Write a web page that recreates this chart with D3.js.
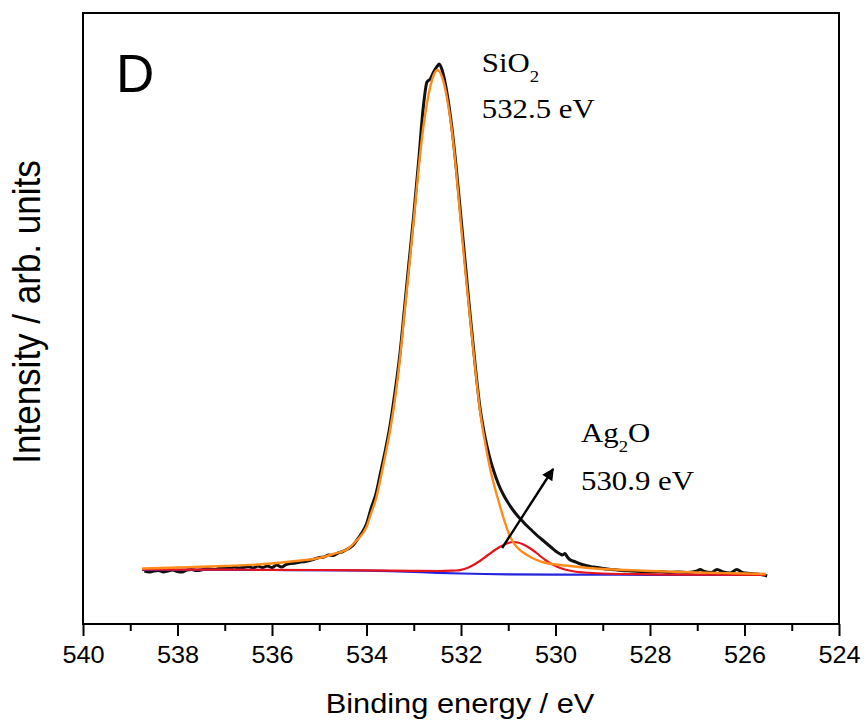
<!DOCTYPE html>
<html>
<head>
<meta charset="utf-8">
<script src="https://cdn.jsdelivr.net/npm/d3@7"></script>
<style>
  html, body { margin: 0; padding: 0; background: #fff; }
  svg { display: block; }
</style>
</head>
<body>
<svg id="chart" width="864" height="722"></svg>
<script>
// O 1s spectrum: measured counts, fitted SiO2 / Ag2O components and background.

// measured spectrum
const expEnergy = [538.7,538.6,538.5,538.4,538.3,538.2,538.1,538.0,537.9,537.8,537.7,537.6,537.5,537.4,537.3,537.2,537.1,537.0,
  536.9,536.8,536.7,536.6,536.5,536.4,536.3,536.2,536.1,536.0,535.9,535.8,535.7,535.6,535.5,535.4,535.3,535.2,535.1,535.0,
  534.9,534.8,534.7,534.6,534.5,534.4,534.3,534.2,534.1,534.0,533.9,533.8,533.7,533.6,533.5,533.4,533.3,533.2,533.1,533.0,
  532.9,532.8,532.72,532.65,532.6,532.5,532.46,532.4,532.3,532.2,532.1,532.0,531.9,531.8,531.7,531.6,531.5,531.4,531.3,531.2,531.1,531.0,
  530.9,530.8,530.7,530.6,530.5,530.4,530.3,530.2,530.1,530.0,529.9,529.85,529.8,529.75,529.7,529.6,529.5,529.4,529.3,529.2,529.1,529.0,
  528.8,528.6,528.4,528.2,528.0,527.8,527.6,527.4,527.2,527.0,526.94,526.85,526.7,526.58,526.45,526.3,526.16,526.05,525.9,525.75,525.6,525.52];
const expCounts = [1060,1040,1060,1070,1040,1060,1080,1050,1040,1080,1090,1070,1080,1110,1100,1090,1120,1130,
  1110,1140,1120,1130,1150,1120,1160,1130,1160,1130,1180,1140,1190,1210,1220,1240,1250,1270,1300,1330,
  1340,1380,1370,1420,1450,1500,1560,1680,1820,2000,2320,2600,3040,3480,3980,4620,5340,6280,7240,8180,
  9220,10320,10840,10900,11000,11160,11200,11080,10640,9980,9120,8120,7120,6120,5180,4340,3780,3360,3040,2780,2580,2420,
  2280,2160,2060,1960,1870,1780,1700,1620,1540,1460,1400,1380,1410,1340,1290,1250,1210,1180,1160,1140,1130,1110,
  1090,1070,1060,1050,1040,1050,1030,1040,1030,1060,1090,1050,1030,1090,1040,1020,1090,1030,1010,1000,980,960];

// SiO2 component (on background)
const sio2Energy = [538.75,538.0,537.0,536.0,535.5,535.0,534.7,534.4,534.2,534.0,533.9,533.8,533.7,533.6,533.5,533.4,533.3,533.2,533.1,533.0,
  532.9,532.8,532.7,532.6,532.5,532.4,532.3,532.2,532.1,532.0,531.9,531.8,531.7,531.6,531.5,531.4,531.3,531.2,531.1,531.0,
  530.9,530.8,530.6,530.4,530.2,530.0,529.8,529.5,529.0,528.5,528.0,527.0,526.0,525.55];
const sio2Counts = [1110,1130,1160,1210,1260,1320,1400,1500,1680,1940,2220,2500,2920,3380,3880,4480,5240,6180,7120,8080,
  9080,9920,10520,10920,11080,10940,10540,9920,9040,7980,6980,6040,5120,4280,3680,3180,2780,2440,2120,1840,
  1640,1520,1380,1280,1220,1190,1170,1140,1100,1080,1060,1030,1010,1000];

// Ag2O component (on background)
const ag2oEnergy = [538.75,537.0,535.0,534.0,533.0,532.5,532.2,532.1,532.0,531.9,531.8,531.7,531.6,531.5,531.4,531.3,531.2,531.1,531.0,
  530.9,530.8,530.7,530.6,530.5,530.4,530.3,530.2,530.1,530.0,529.9,529.8,529.6,529.4,529.0,528.0,527.0,526.0,525.55];
const ag2oCounts = [1090,1086,1080,1074,1064,1060,1066,1070,1084,1110,1150,1200,1260,1330,1400,1470,1530,1580,1620,
  1640,1630,1600,1550,1490,1420,1340,1270,1210,1160,1120,1090,1050,1030,1010,994,988,984,980];

// background
const bgEnergy = [538.75,536.0,534.5,534.0,533.5,533.0,532.5,532.0,531.5,531.0,530.0,528.0,525.55];
const bgCounts = [1084,1080,1074,1068,1056,1040,1024,1010,1000,994,988,984,980];

// axis
const xDomain = [540, 524];
const yDomain = [0, 12220];
const majorTicks = [540, 538, 536, 534, 532, 530, 528, 526, 524];
const minorTicks = [539, 537, 535, 533, 531, 529, 527, 525];

// peak labels and arrow (energy, counts)
const peakLabels = [
  { name: "SiO", sub: "2", after: "", value: "532.5 eV", at: [531.56, 11040], valueAt: [531.56, 10120] },
  { name: "Ag", sub: "2", after: "O", value: "530.9 eV", at: [529.46, 3640], valueAt: [529.46, 2680] }
];
const arrowFrom = [531.13, 1520];
const arrowTo = [530.05, 3100];

const colors = { exp: "#111111", sio2: "#ff8c1a", ag2o: "#e8141b", bg: "#2424dc" };

const svg = d3.select("#chart");
const plotLeft = 83, plotRight = 839, plotTop = 13, plotBottom = 624;

const x = d3.scaleLinear().domain(xDomain).range([plotLeft, plotRight]);
const y = d3.scaleLinear().domain(yDomain).range([plotBottom, plotTop]);

const line = d3.line()
  .x(d => x(d[0]))
  .y(d => y(d[1]))
  .curve(d3.curveMonotoneX);

const zip = (a, b) => a.map((v, i) => [v, b[i]]);

const plot = svg.append("g");

plot.append("path").datum(zip(expEnergy, expCounts))
  .attr("d", line).attr("fill", "none")
  .attr("stroke", colors.exp).attr("stroke-width", 3).attr("stroke-linejoin", "round");

plot.append("path").datum(zip(bgEnergy, bgCounts))
  .attr("d", line).attr("fill", "none")
  .attr("stroke", colors.bg).attr("stroke-width", 2.2);

plot.append("path").datum(zip(ag2oEnergy, ag2oCounts))
  .attr("d", line).attr("fill", "none")
  .attr("stroke", colors.ag2o).attr("stroke-width", 2.2);

plot.append("path").datum(zip(sio2Energy, sio2Counts))
  .attr("d", line).attr("fill", "none")
  .attr("stroke", colors.sio2).attr("stroke-width", 2.4);

// frame
svg.append("rect")
  .attr("x", plotLeft).attr("y", plotTop)
  .attr("width", plotRight - plotLeft).attr("height", plotBottom - plotTop)
  .attr("fill", "none").attr("stroke", "#000").attr("stroke-width", 2);

// bottom axis: minor ticks, then major ticks with labels
const minorAxis = d3.axisBottom(x).tickValues(minorTicks).tickSize(7).tickFormat("");
const majorAxis = d3.axisBottom(x).tickValues(majorTicks).tickSize(12).tickFormat(d3.format("d"));

const gMinor = svg.append("g").attr("transform", `translate(0,${plotBottom})`).call(minorAxis);
const gMajor = svg.append("g").attr("transform", `translate(0,${plotBottom})`).call(majorAxis);
[gMinor, gMajor].forEach(g => {
  g.select(".domain").remove();
  g.selectAll(".tick line").attr("stroke", "#000").attr("stroke-width", 2);
});
gMajor.selectAll(".tick text")
  .attr("y", 39).attr("dy", 0)
  .attr("transform", "scale(1.1,1)")
  .attr("fill", "#000")
  .style("font-family", "'Liberation Sans', Arial, sans-serif")
  .style("font-size", "23px");

// axis titles
svg.append("text")
  .attr("transform", `translate(${(plotLeft + plotRight) / 2 - 1},713) scale(1.1,1)`)
  .attr("text-anchor", "middle")
  .style("font-family", "'Liberation Sans', Arial, sans-serif")
  .style("font-size", "28px")
  .text("Binding energy / eV");

svg.append("text")
  .attr("transform", "translate(40,312) scale(1.1,1) rotate(-90)")
  .attr("text-anchor", "middle")
  .style("font-family", "'Liberation Sans', Arial, sans-serif")
  .style("font-size", "35px")
  .text("Intensity / arb. units");

// panel letter
svg.append("text")
  .attr("x", 116).attr("y", 92)
  .style("font-family", "'Liberation Sans', Arial, sans-serif")
  .style("font-size", "53px")
  .text("D");

// peak labels
const serif = "'Liberation Serif', 'Times New Roman', serif";
peakLabels.forEach(p => {
  const t = svg.append("text")
    .attr("transform", `translate(${x(p.at[0])},${y(p.at[1])}) scale(1.1,1)`)
    .style("font-family", serif).style("font-size", "28px");
  t.append("tspan").text(p.name);
  t.append("tspan").attr("dy", 10).style("font-size", "17px").text(p.sub);
  if (p.after) t.append("tspan").attr("dy", -10).text(p.after);

  svg.append("text")
    .attr("transform", `translate(${x(p.valueAt[0])},${y(p.valueAt[1])}) scale(1.1,1)`)
    .style("font-family", serif).style("font-size", "28px")
    .text(p.value);
});

// arrow pointing from the Ag2O component to its label
svg.append("defs").append("marker")
  .attr("id", "arrowhead")
  .attr("viewBox", "0 0 10 10")
  .attr("refX", 9).attr("refY", 5)
  .attr("markerWidth", 6).attr("markerHeight", 5)
  .attr("markerUnits", "strokeWidth")
  .attr("orient", "auto")
  .append("path").attr("d", "M0,0 L10,5 L0,10 Z").attr("fill", "#000");

svg.append("line")
  .attr("x1", x(arrowFrom[0])).attr("y1", y(arrowFrom[1]))
  .attr("x2", x(arrowTo[0])).attr("y2", y(arrowTo[1]))
  .attr("stroke", "#000").attr("stroke-width", 2.4)
  .attr("marker-end", "url(#arrowhead)");
</script>
</body>
</html>
